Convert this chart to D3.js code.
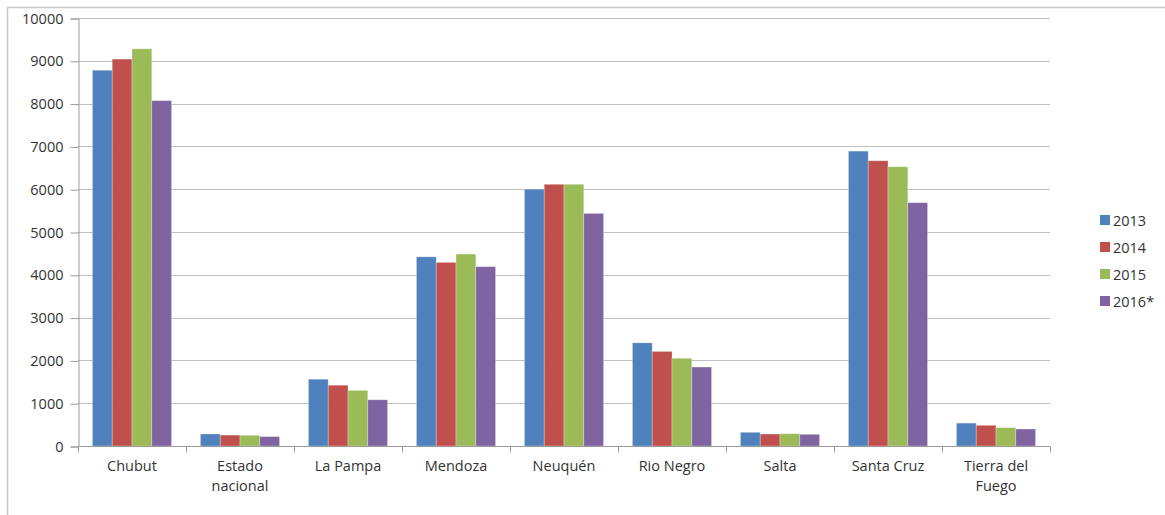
<!DOCTYPE html>
<html>
<head>
<meta charset="utf-8">
<script src="https://cdn.jsdelivr.net/npm/d3@7"></script>
<style>
  body { margin: 0; background: #fff; }
  svg text { font-family: "Open Sans", "Liberation Sans", sans-serif; fill: #333; }
</style>
</head>
<body>
<div id="chart"></div>
<script>
const categories = ["Chubut", "Estado nacional", "La Pampa", "Mendoza", "Neuquén", "Rio Negro", "Salta", "Santa Cruz", "Tierra del Fuego"];
const series = ["2013", "2014", "2015", "2016*"];
const values2013 = [8780, 280, 1560, 4420, 6000, 2410, 320, 6890, 535];
const values2014 = [9040, 255, 1420, 4290, 6115, 2210, 280, 6665, 483];
const values2015 = [9280, 250, 1300, 4485, 6115, 2050, 287, 6525, 428];
const values2016 = [8070, 220, 1080, 4190, 5435, 1845, 273, 5685, 397];
const yTicks = [0, 1000, 2000, 3000, 4000, 5000, 6000, 7000, 8000, 9000, 10000];
const colors = ["#4F81BD", "#C0504D", "#9BBB59", "#8064A2"];

const allValues = [values2013, values2014, values2015, values2016];

const W = 1165, H = 515;
const plot = { left: 78, right: 1050, top: 18, bottom: 446 };

const svg = d3.select("#chart")
  .append("svg")
  .attr("width", W)
  .attr("height", H);

// outer frame (only top/left visible in the picture)
svg.append("rect")
  .attr("x", 7.5).attr("y", 7.5)
  .attr("width", 1300).attr("height", 600)
  .attr("fill", "none")
  .attr("stroke", "#c8c8c8")
  .attr("stroke-width", 1.5);

const x0 = d3.scaleBand()
  .domain(categories)
  .range([plot.left, plot.right])
  .padding(0);

const x1 = d3.scaleBand()
  .domain(series)
  .range([0, x0.bandwidth()])
  .paddingInner(0)
  .paddingOuter(0.73);

const y = d3.scaleLinear()
  .domain([0, 10000])
  .range([plot.bottom, plot.top]);

// gridlines
svg.append("g")
  .selectAll("line")
  .data(yTicks.filter(d => d > 0))
  .enter().append("line")
  .attr("x1", plot.left)
  .attr("x2", plot.right)
  .attr("y1", d => Math.round(y(d)) + 0.5)
  .attr("y2", d => Math.round(y(d)) + 0.5)
  .attr("stroke", "#bfbfbf")
  .attr("stroke-width", 1.2);

// y axis
const yAxis = svg.append("g")
  .attr("transform", `translate(${plot.left + 0.5},0.5)`)
  .call(d3.axisLeft(y).tickValues(yTicks).tickSize(8).tickPadding(7).tickFormat(d3.format("d")));
yAxis.select(".domain").attr("stroke", "#9a9a9a");
yAxis.selectAll(".tick line").attr("stroke", "#9a9a9a");
yAxis.selectAll(".tick text")
  .style("font-size", "14.5px")
  .style("font-family", "'Open Sans', sans-serif")
  .attr("fill", "#333");

// bars
const groups = svg.append("g")
  .selectAll("g")
  .data(categories)
  .enter().append("g")
  .attr("transform", d => `translate(${x0(d)},0)`);

groups.selectAll("rect")
  .data((c, i) => series.map((s, j) => ({ s, j, v: allValues[j][i] })))
  .enter().append("rect")
  .attr("x", d => x1(d.s))
  .attr("y", d => y(d.v))
  .attr("width", x1.bandwidth())
  .attr("height", d => plot.bottom - y(d.v))
  .attr("fill", d => colors[d.j])
  .attr("stroke", "rgba(255,255,255,0.35)")
  .attr("stroke-width", 0.8);

// x axis
const xAxis = svg.append("g")
  .attr("transform", `translate(0,${plot.bottom + 0.5})`);
xAxis.append("line")
  .attr("x1", plot.left).attr("x2", plot.right)
  .attr("stroke", "#9a9a9a");
xAxis.selectAll(".xtick")
  .data(categories.map(c => x0(c)).concat([plot.right]))
  .enter().append("line")
  .attr("x1", d => Math.round(d) + 0.5)
  .attr("x2", d => Math.round(d) + 0.5)
  .attr("y1", 0).attr("y2", 6)
  .attr("stroke", "#9a9a9a");

// category labels, wrapped to two words max per line as in the picture
const labelLines = c => {
  const parts = c.split(" ");
  if (c === "La Pampa" || c === "Santa Cruz" || c === "Rio Negro") return [c];
  if (parts.length === 2) return parts;
  if (parts.length === 3) return [parts[0] + " " + parts[1], parts[2]];
  return [c];
};

const labels = svg.append("g")
  .selectAll("text")
  .data(categories)
  .enter().append("text")
  .attr("text-anchor", "middle")
  .attr("x", d => x0(d) + x0.bandwidth() / 2)
  .attr("y", 471)
  .style("font-size", "14.5px");

labels.selectAll("tspan")
  .data(d => labelLines(d).map(t => ({ t, x: x0(d) + x0.bandwidth() / 2 })))
  .enter().append("tspan")
  .attr("x", d => d.x)
  .attr("dy", (d, i) => i === 0 ? 0 : 20)
  .text(d => d.t);

// legend
const legend = svg.append("g")
  .selectAll("g")
  .data(series)
  .enter().append("g")
  .attr("transform", (d, i) => `translate(1100,${220 + i * 27})`);

legend.append("rect")
  .attr("x", 0).attr("y", -5)
  .attr("width", 10).attr("height", 10)
  .attr("fill", (d, i) => colors[i]);

legend.append("text")
  .attr("x", 13)
  .attr("y", 5.5)
  .style("font-size", "14.5px")
  .text(d => d);
</script>
</body>
</html>
